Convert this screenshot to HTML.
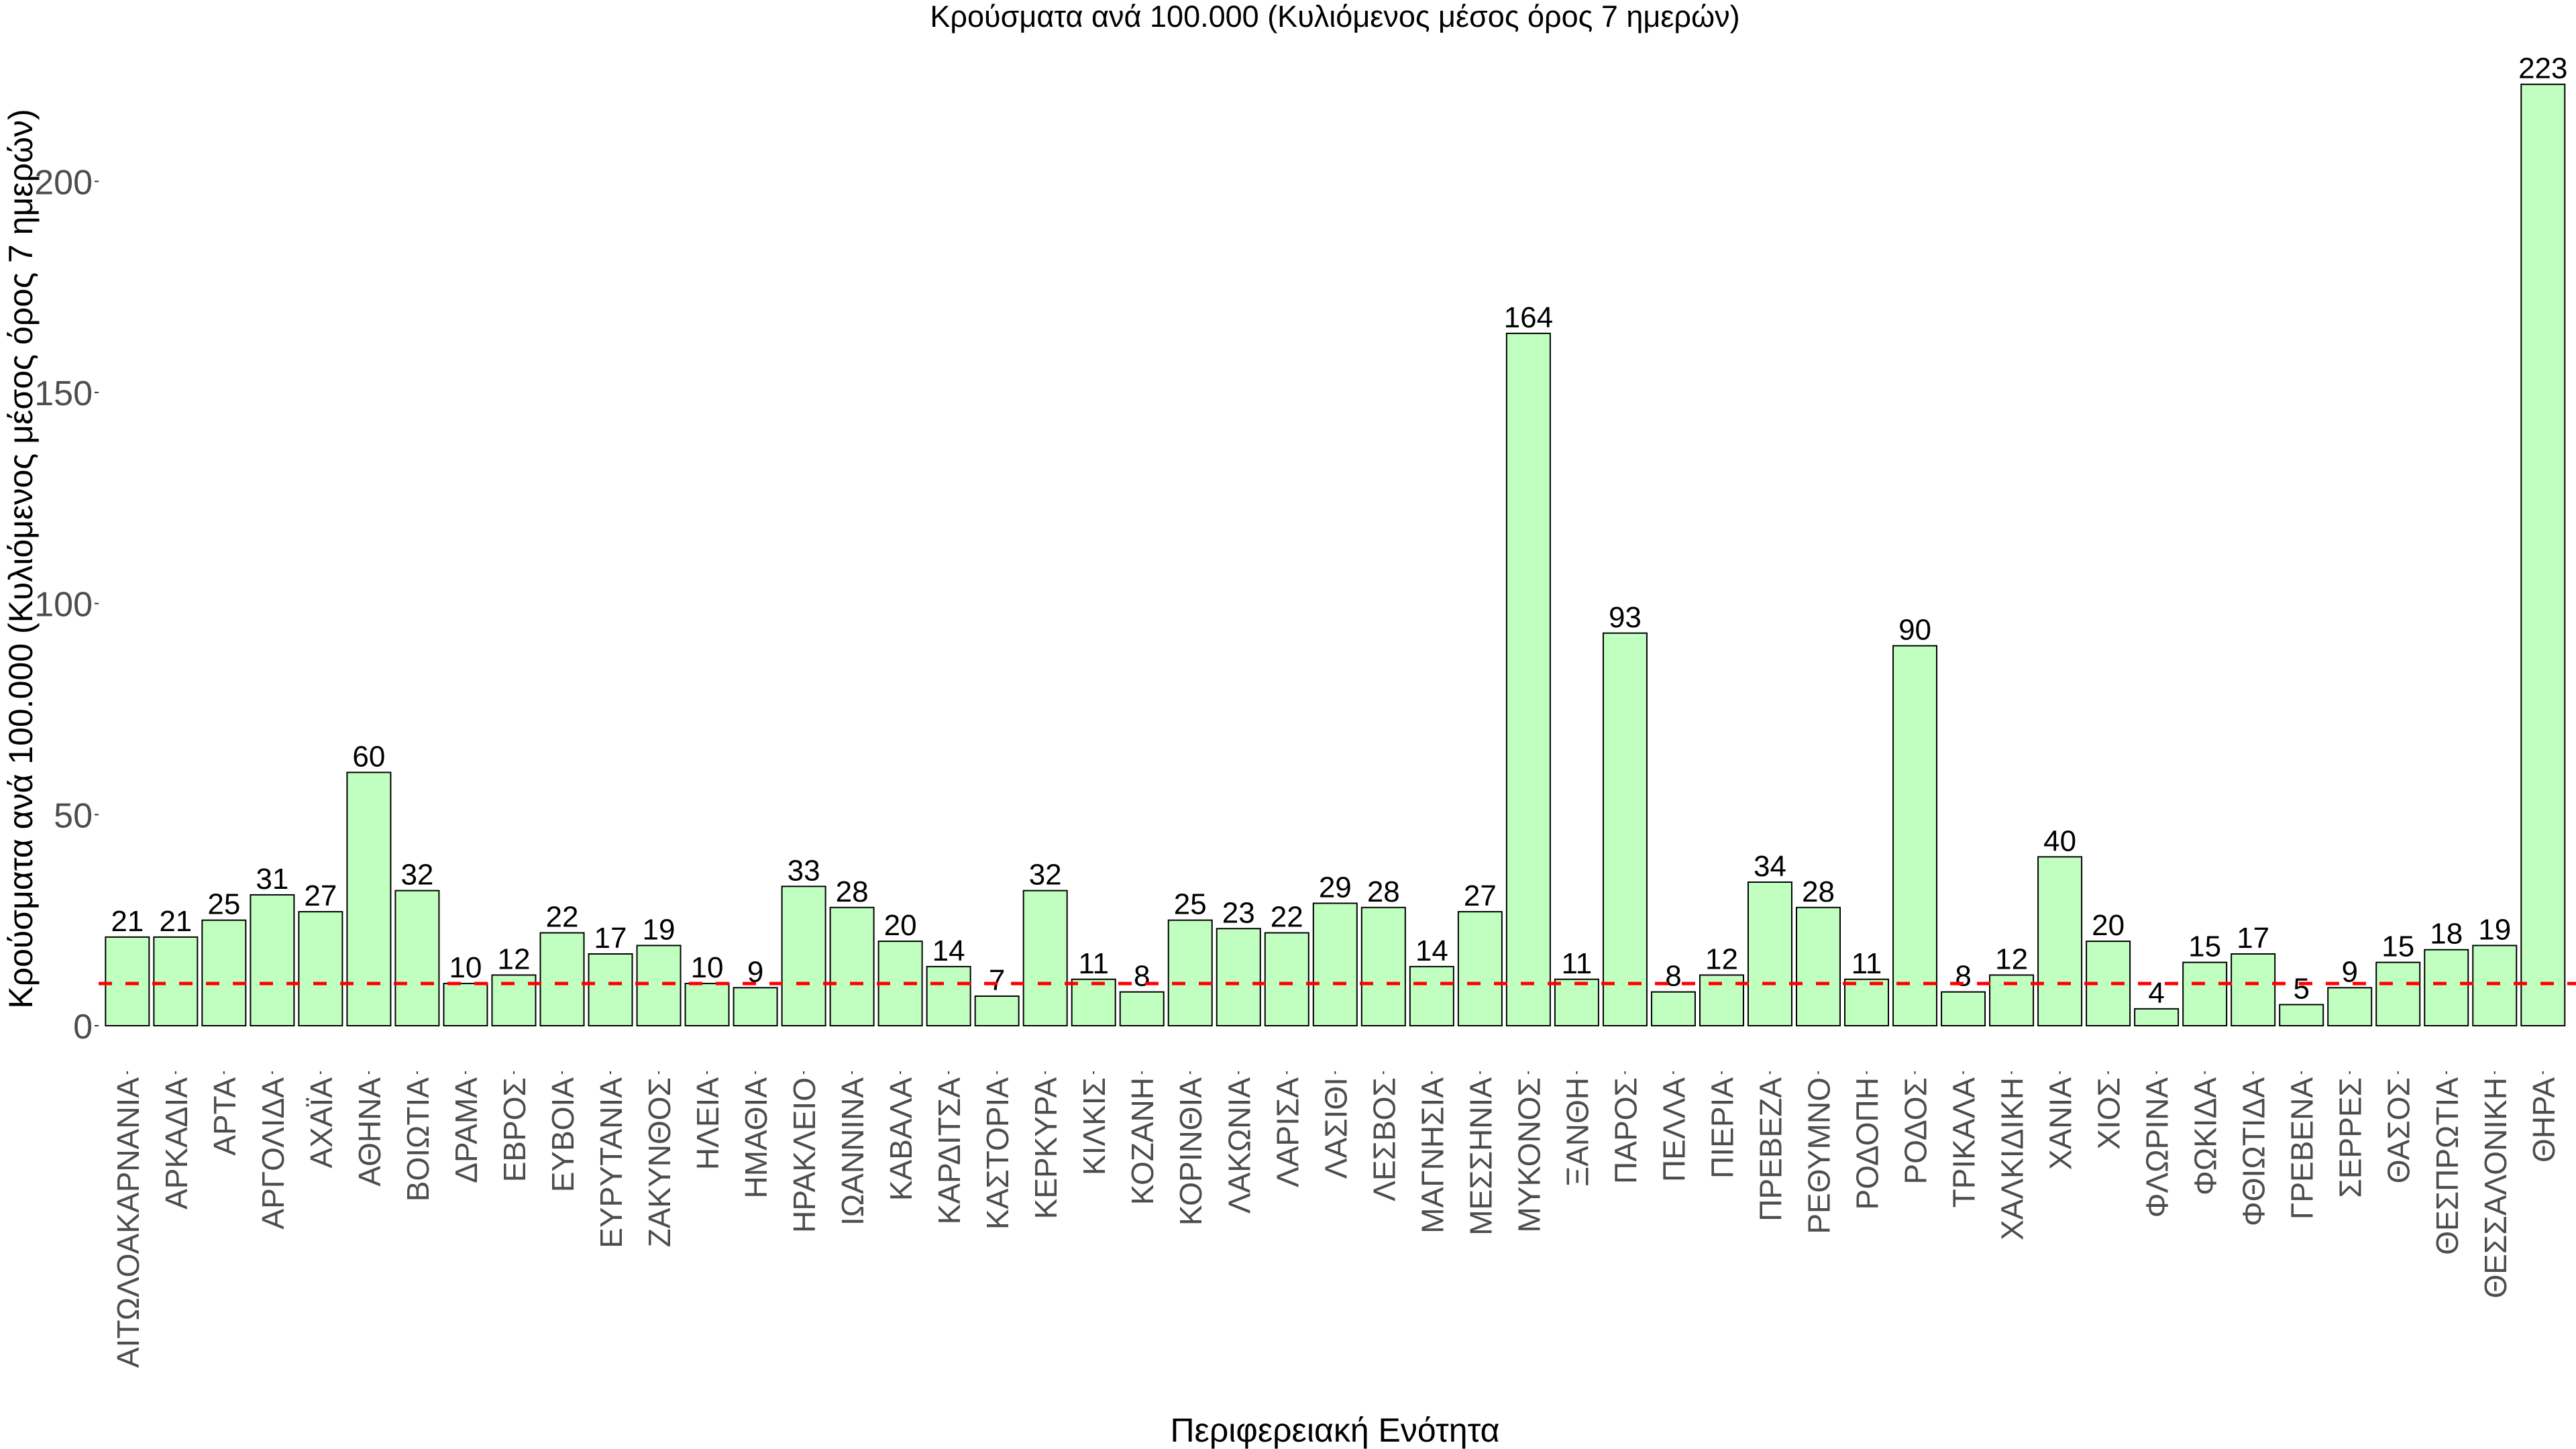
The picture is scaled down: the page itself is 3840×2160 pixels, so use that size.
<!DOCTYPE html>
<html><head><meta charset="utf-8"><style>
html,body{margin:0;padding:0;background:#fff;}
svg{display:block;font-family:"Liberation Sans",Arial,sans-serif;}
</style></head><body>
<svg id="chart" width="3840" height="2160" viewBox="0 0 3840 2160" xmlns="http://www.w3.org/2000/svg">
<rect width="3840" height="2160" fill="#fff"/>
<text x="1990" y="40" font-size="45" text-anchor="middle" fill="#000">Κρούσματα ανά 100.000 (Κυλιόμενος μέσος όρος 7 ημερών)</text>
<text x="1990" y="2149" font-size="50" text-anchor="middle" fill="#000">Περιφερειακή Ενότητα</text>
<text transform="translate(48,833) rotate(-90)" font-size="50" text-anchor="middle" fill="#000">Κρούσματα ανά 100.000 (Κυλιόμενος μέσος όρος 7 ημερών)</text>
<g id="yaxis"></g>
<g id="bars"></g>
<g id="labels"></g>
<g id="xlabels"></g>
</svg>
<script>
const categories = ["ΑΙΤΩΛΟΑΚΑΡΝΑΝΙΑ","ΑΡΚΑΔΙΑ","ΑΡΤΑ","ΑΡΓΟΛΙΔΑ","ΑΧΑΪΑ","ΑΘΗΝΑ","ΒΟΙΩΤΙΑ","ΔΡΑΜΑ","ΕΒΡΟΣ","ΕΥΒΟΙΑ","ΕΥΡΥΤΑΝΙΑ","ΖΑΚΥΝΘΟΣ","ΗΛΕΙΑ","ΗΜΑΘΙΑ","ΗΡΑΚΛΕΙΟ","ΙΩΑΝΝΙΝΑ","ΚΑΒΑΛΑ","ΚΑΡΔΙΤΣΑ","ΚΑΣΤΟΡΙΑ","ΚΕΡΚΥΡΑ","ΚΙΛΚΙΣ","ΚΟΖΑΝΗ","ΚΟΡΙΝΘΙΑ","ΛΑΚΩΝΙΑ","ΛΑΡΙΣΑ","ΛΑΣΙΘΙ","ΛΕΣΒΟΣ","ΜΑΓΝΗΣΙΑ","ΜΕΣΣΗΝΙΑ","ΜΥΚΟΝΟΣ","ΞΑΝΘΗ","ΠΑΡΟΣ","ΠΕΛΛΑ","ΠΙΕΡΙΑ","ΠΡΕΒΕΖΑ","ΡΕΘΥΜΝΟ","ΡΟΔΟΠΗ","ΡΟΔΟΣ","ΤΡΙΚΑΛΑ","ΧΑΛΚΙΔΙΚΗ","ΧΑΝΙΑ","ΧΙΟΣ","ΦΛΩΡΙΝΑ","ΦΩΚΙΔΑ","ΦΘΙΩΤΙΔΑ","ΓΡΕΒΕΝΑ","ΣΕΡΡΕΣ","ΘΑΣΟΣ","ΘΕΣΠΡΩΤΙΑ","ΘΕΣΣΑΛΟΝΙΚΗ","ΘΗΡΑ"];
const values = [21,21,25,31,27,60,32,10,12,22,17,19,10,9,33,28,20,14,7,32,11,8,25,23,22,29,28,14,27,164,11,93,8,12,34,28,11,90,8,12,40,20,4,15,17,5,9,15,18,19,223];
const yTicks = [0,50,100,150,200];
const threshold = [10];

const NS = "http://www.w3.org/2000/svg";
const y0px = 1529, pxPerUnit = 6.293;
const x0px = 189.8, step = 72.02, barW = 65;
function yScale(v){ return y0px - v * pxPerUnit; }
function xScale(i){ return x0px + i * step; }
function mk(tag, attrs, parent){
  const el = document.createElementNS(NS, tag);
  for (const k in attrs) el.setAttribute(k, attrs[k]);
  parent.appendChild(el);
  return el;
}
const yaxis = document.getElementById('yaxis');
yTicks.forEach(t => {
  const tick = mk('line', {x1:141, x2:147, y1:yScale(t), y2:yScale(t), stroke:'#333', 'stroke-width':2}, yaxis);
  
  
  const lab = mk('text', {x:138, y:yScale(t)+19, 'font-size':52, 'text-anchor':'end', fill:'#4d4d4d'}, yaxis);
  lab.textContent = t;
  
  
});
const bars = document.getElementById('bars');
const labels = document.getElementById('labels');
const xl = document.getElementById('xlabels');
values.forEach((v, i) => {
  const cx = xScale(i);
  const r = mk('rect', {x:cx-barW/2, y:yScale(v), width:barW, height:y0px-yScale(v), fill:'#c1ffc1', stroke:'#000', 'stroke-width':2}, bars);
  
  
  const t = mk('text', {x:cx, y:yScale(v)-9, 'font-size':44, 'text-anchor':'middle', fill:'#000'}, labels);
  t.textContent = Math.round(v);
  
  
  const tk = mk('line', {x1:cx, x2:cx, y1:1597, y2:1601, stroke:'#333', 'stroke-width':2}, xl);
  
  
  const xt = mk('text', {transform:`translate(${cx+17},1606) rotate(-90)`, 'font-size':46, 'text-anchor':'end', fill:'#4d4d4d'}, xl);
  xt.textContent = categories[i];
  
  
});
const hl = mk('line', {x1:147, x2:3840, y1:yScale(threshold[0]), y2:yScale(threshold[0]), stroke:'#ff0000', 'stroke-width':5, 'stroke-dasharray':'20 20'}, labels);


</script>
</body></html>
